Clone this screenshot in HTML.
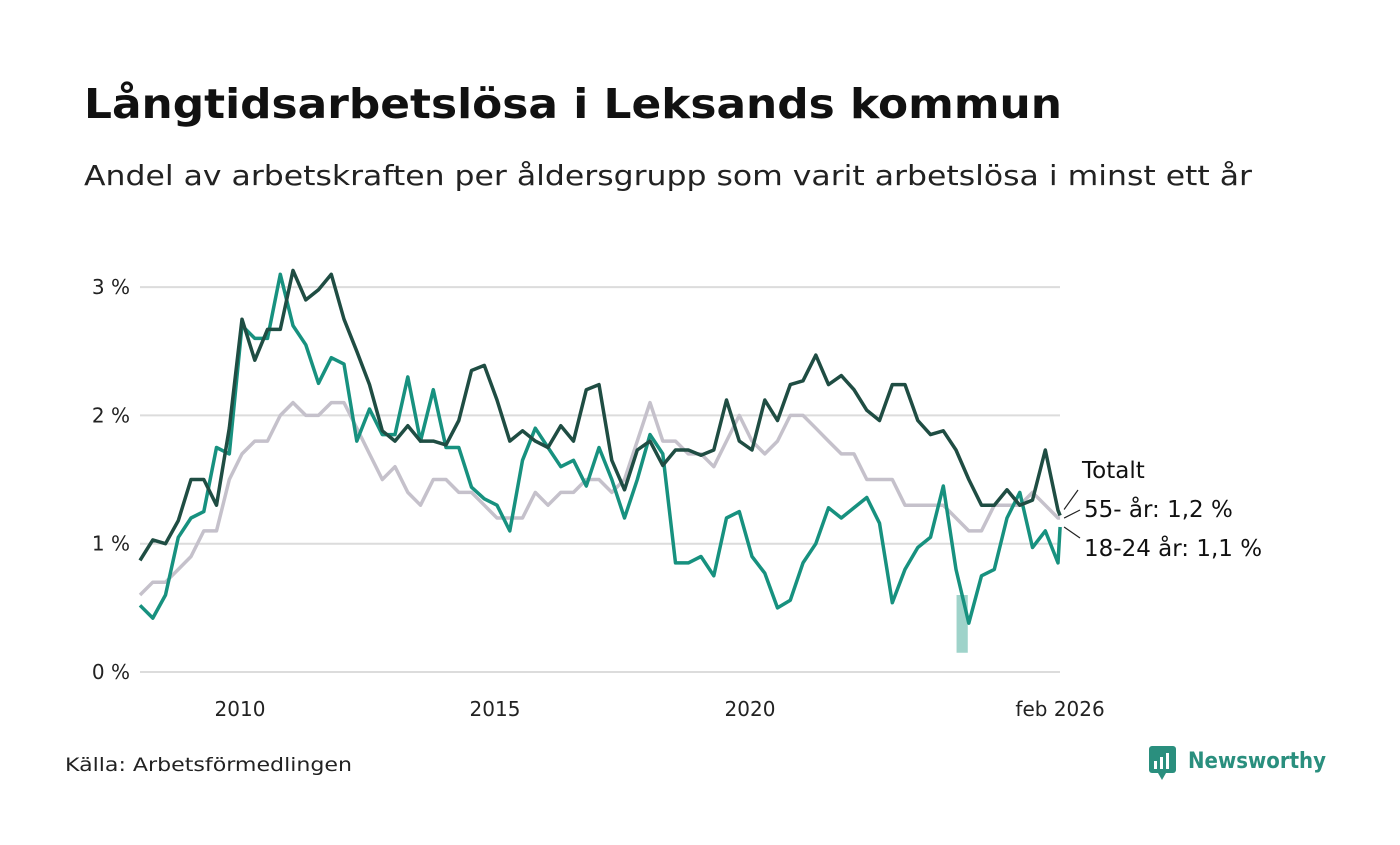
<!DOCTYPE html>
<html><head><meta charset="utf-8"><style>
body{margin:0;background:#fff;}
svg text{font-family:"DejaVu Sans","Liberation Sans",sans-serif;}
</style></head><body>
<svg id="chart" width="1400" height="840" viewBox="0 0 1400 840" xmlns="http://www.w3.org/2000/svg">
<text x="84" y="118" font-size="41" font-weight="bold" fill="#111" textLength="978" lengthAdjust="spacingAndGlyphs">Långtidsarbetslösa i Leksands kommun</text>
<text x="84" y="185" font-size="28" fill="#222" textLength="1168" lengthAdjust="spacingAndGlyphs">Andel av arbetskraften per åldersgrupp som varit arbetslösa i minst ett år</text>
<g id="grid"></g>
<g id="series"></g>
<g id="labels"></g>
<text x="65" y="771" font-size="19" fill="#222" textLength="287" lengthAdjust="spacingAndGlyphs">Källa: Arbetsförmedlingen</text>
<g>
<rect x="1149" y="746" width="27" height="27" rx="3" fill="#2a8f7e"/>
<path d="M1158 773 L1162 780 L1166 773 Z" fill="#2a8f7e"/>
<rect x="1154" y="761" width="3" height="8" fill="#fff"/><rect x="1160" y="757" width="3" height="12" fill="#fff"/><rect x="1166" y="753" width="3" height="16" fill="#fff"/>
<text x="1188" y="768" font-size="22" font-weight="bold" fill="#2a8f7e" textLength="138" lengthAdjust="spacingAndGlyphs">Newsworthy</text>
</g>
</svg>
<script>
const dates = [];
for (let i = 0; i < 73; i++) dates.push(2008.04 + i * 0.25);
dates.push(2026.08);
const totalt = [0.87,1.03,1.0,1.18,1.5,1.5,1.3,1.9,2.75,2.43,
2.67,2.67,3.13,2.9,2.98,3.1,2.75,2.5,2.24,1.88,
1.8,1.92,1.8,1.8,1.77,1.96,2.35,2.39,2.12,1.8,
1.88,1.8,1.75,1.92,1.8,2.2,2.24,1.65,1.42,1.73,
1.8,1.61,1.73,1.73,1.69,1.73,2.12,1.8,1.73,2.12,
1.96,2.24,2.27,2.47,2.24,2.31,2.2,2.04,1.96,2.24,
2.24,1.96,1.85,1.88,1.73,1.5,1.3,1.3,1.42,1.3,
1.34,1.73,1.26,1.22];
const age55 = [0.6,0.7,0.7,0.8,0.9,1.1,1.1,1.5,1.7,1.8,
1.8,2.0,2.1,2.0,2.0,2.1,2.1,1.9,1.7,1.5,
1.6,1.4,1.3,1.5,1.5,1.4,1.4,1.3,1.2,1.2,
1.2,1.4,1.3,1.4,1.4,1.5,1.5,1.4,1.5,1.8,
2.1,1.8,1.8,1.7,1.7,1.6,1.8,2.0,1.8,1.7,
1.8,2.0,2.0,1.9,1.8,1.7,1.7,1.5,1.5,1.5,
1.3,1.3,1.3,1.3,1.2,1.1,1.1,1.3,1.3,1.3,
1.4,1.3,1.2,1.2];
const age1824 = [0.52,0.42,0.6,1.05,1.2,1.25,1.75,1.7,2.7,2.6,
2.6,3.1,2.7,2.55,2.25,2.45,2.4,1.8,2.05,1.85,
1.85,2.3,1.8,2.2,1.75,1.75,1.44,1.35,1.3,1.1,
1.65,1.9,1.75,1.6,1.65,1.45,1.75,1.5,1.2,1.5,
1.85,1.7,0.85,0.85,0.9,0.75,1.2,1.25,0.9,0.77,
0.5,0.56,0.85,1.0,1.28,1.2,1.28,1.36,1.16,0.54,
0.8,0.97,1.05,1.45,0.8,0.38,0.75,0.8,1.2,1.4,
0.97,1.1,0.85,1.13];
const yTicks = [0,1,2,3];
const yTickLabels = ["0 %","1 %","2 %","3 %"];
const xTicks = [2010,2015,2020,2026.08];
const xTickLabels = ["2010","2015","2020","feb 2026"];
const band = [[2024.05,0.15,0.6],[2024.27,0.15,0.6]];

const NS="http://www.w3.org/2000/svg";
const xS = t => 240 + (t - 2010) * 51;
const yS = v => 672 - v * 128.3;
function mk(tag, attrs, parent){const e=document.createElementNS(NS,tag);for(const k in attrs)e.setAttribute(k,attrs[k]);parent.appendChild(e);return e;}
const grid=document.getElementById('grid'), series=document.getElementById('series'), labels=document.getElementById('labels');
yTicks.forEach((v,i)=>{
  const l=mk('line',{x1:140,x2:1060,y1:yS(v),y2:yS(v),stroke:'#dcdcdc','stroke-width':2},grid);
  
  
  const t=mk('text',{x:130,y:yS(v)+7,'font-size':20,fill:'#222','text-anchor':'end'},grid);
  t.textContent=yTickLabels[i];
  
  
});
xTicks.forEach((v,i)=>{
  const t=mk('text',{x:xS(v),y:716,'font-size':20,fill:'#222','text-anchor':'middle'},grid);
  t.textContent=xTickLabels[i];
  
  
});
const bd=mk('rect',{x:xS(band[0][0]),y:yS(band[0][2]),width:xS(band[1][0])-xS(band[0][0]),height:yS(band[0][1])-yS(band[0][2]),fill:'#9fd3ca'},series);


function line(vals,color,name){
  const d=vals.map((v,i)=>(i?'L':'M')+xS(dates[i]).toFixed(1)+' '+yS(v).toFixed(1)).join(' ');
  const p=mk('path',{d:d,fill:'none',stroke:color,'stroke-width':3.5,'stroke-linejoin':'round'},series);
  
  
}
line(age55,'#c5c1cb','line-55-plus');
line(age1824,'#17917f','line-18-24');
line(totalt,'#1f4d43','line-totalt');
const lx=xS(dates[dates.length-1]);
const lbls=[["Totalt",1082,478,totalt[totalt.length-1],'label-totalt'],
 ["55- år: 1,2 %",1084,517,age55[age55.length-1],'label-55-plus'],
 ["18-24 år: 1,1 %",1084,556,age1824[age1824.length-1],'label-18-24']];
lbls.forEach(([s,x,y,v,n],i)=>{
  const ty=[490,510,538][i];
  const l=mk('line',{x1:lx+4,y1:yS(v)-(i===0?6:0),x2:x-4,y2:ty,stroke:'#222','stroke-width':1.2},labels);
  
  
  const t=mk('text',{x:x,y:y,'font-size':23,fill:'#111'},labels);
  t.textContent=s;
  
  
});
</script>
</body></html>
